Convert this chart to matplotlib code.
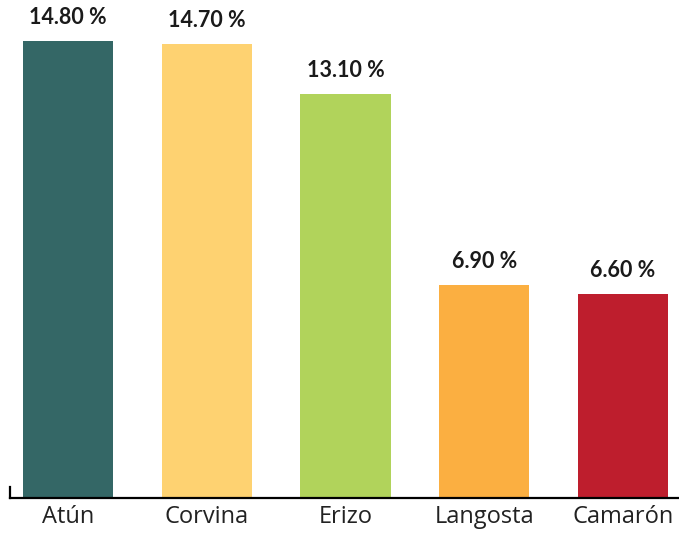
import matplotlib.pyplot as plt

# Data
categories = ['Atún', 'Corvina', 'Erizo', 'Langosta', 'Camarón']
values = [14.8, 14.7, 13.1, 6.9, 6.6]
colors = ['#346766', '#FED271', '#B1D35B', '#FBAF41', '#BE1E2D']

fig = plt.figure(figsize=(6.79, 5.33), dpi=100)
ax = fig.add_axes([10 / 679, 35 / 533, 669 / 679, 498 / 533])

bars = ax.bar(range(len(categories)), values, width=0.65, color=colors)

ax.set_xlim(-0.418, 4.404)
ax.set_ylim(0, 16.13)

# value labels above bars
for bar, v in zip(bars, values):
    ax.text(bar.get_x() + bar.get_width() / 2, bar.get_height() + 0.42,
            f"{v:.2f} %", ha='center', va='bottom', fontsize=15.5,
            fontweight='bold', family='Lato', color='#1a1a1a')

ax.set_xticks(range(len(categories)))
ax.set_xticklabels(categories, fontsize=17, family='Open Sans', color='#222222')
ax.tick_params(axis='x', length=0, pad=5)
ax.set_yticks([])

for s in ['top', 'right']:
    ax.spines[s].set_visible(False)
ax.spines['bottom'].set_linewidth(1.6)
ax.spines['left'].set_linewidth(1.6)
ax.spines['left'].set_bounds(0, 0.36)

fig.savefig('out.png', dpi=100)
